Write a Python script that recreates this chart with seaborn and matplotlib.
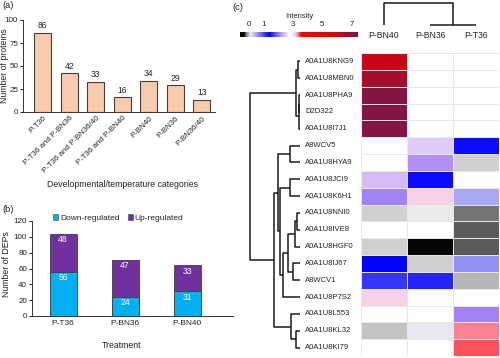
import numpy as np
import pandas as pd
import matplotlib
matplotlib.use("Agg")
import matplotlib.pyplot as plt
from matplotlib.colors import LinearSegmentedColormap
from matplotlib.patches import Patch
import seaborn as sns

# (a) proteins per developmental/temperature category
categories = ["P-T36", "P-T36 and P-BN36", "P-T36 and P-BN36/40", "P-T36 and P-BN40",
              "P-BN40", "P-BN36", "P-BN36/40"]
protein_counts = [86, 42, 33, 16, 34, 29, 13]

# (b) DEPs per treatment
treatments = ["P-T36", "P-BN36", "P-BN40"]
down_reg = [56, 24, 31]
up_reg = [48, 47, 33]

# (c) intensity heatmap
proteins = ["A0A1U8KNG9", "A0A1U8MBN0", "A0A1U8PHA9", "D2D322", "A0A1U8I7J1",
            "A8WCV5", "A0A1U8HYA9", "A0A1U8JCI9", "A0A1U8K6H1", "A0A1U8NNI0",
            "A0A1U8IVE8", "A0A1U8HGF0", "A0A1U8IJ67", "A8WCV1", "A0A1U8P7S2",
            "A0A1U8L553", "A0A1U8KL32", "A0A1U8KI79"]
conditions = ["P-BN40", "P-BN36", "P-T36"]
bn40 = [6.2, 6.7, 7.2, 7.2, 7.2, 2.8, 2.8, 2.4, 2.1, 0.05, 2.8, 0.04, 1.4, 1.1, 3.15, 2.8, 0.01, 2.8]
bn36 = [2.8, 2.8, 2.8, 2.8, 2.8, 2.5, 2.15, 1.45, 3.15, 0.12, 2.8, -0.45, 0.05, 1.2, 2.8, 2.8, 0.14, 2.8]
t36 = [2.8, 2.8, 2.8, 2.8, 2.8, 1.45, 0.06, 2.8, 0.5, -0.16, -0.23, -0.235, 0.6, -0.01, 2.8, 2.1, 3.36, 3.45]

# dendrograms: (left id, right id, height); new cluster ids follow the leaves
row_merges = [(0, 1, 2), (2, 3, 0.8), (19, 4, 1.2), (18, 20, 4.3),
              (5, 6, 10), (7, 8, 10), (9, 10, 3), (24, 11, 5), (12, 13, 7),
              (25, 26, 12), (27, 14, 17), (23, 28, 20), (22, 29, 22),
              (16, 17, 4), (15, 31, 9), (30, 32, 26), (21, 33, 50)]
col_merges = [(1, 2, 0.0), (0, 3, 1.0)]

sns.set_theme(style="ticks")
plt.rcParams["font.family"] = ["Liberation Sans", "DejaVu Sans"]
txt = "#222222"
plt.rcParams.update({"text.color": txt, "axes.labelcolor": txt, "xtick.color": txt,
                     "ytick.color": txt, "axes.edgecolor": "#333333", "axes.linewidth": 0.7,
                     "xtick.major.width": 0.7, "ytick.major.width": 0.7,
                     "xtick.major.size": 2, "ytick.major.size": 2})

W, H = 500, 358
fig = plt.figure(figsize=(5, 3.58), dpi=100)


def box(x0, y0, x1, y1):
    return [x0 / W, 1 - y1 / H, (x1 - x0) / W, (y1 - y0) / H]


# ---- (a)
ax_a = fig.add_axes(box(23, 20, 215, 112))
df_a = pd.DataFrame({"cat": categories, "n": protein_counts})
sns.barplot(data=df_a, x="cat", y="n", order=categories, color="#F8CBAD", saturation=1,
            edgecolor="#404040", linewidth=0.8, width=0.64, errorbar=None, ax=ax_a)
ax_a.bar_label(ax_a.containers[0], padding=2, fontsize=6.2)
ax_a.set_ylim(0, 100)
ax_a.set_yticks([0, 25, 50, 75, 100])
ax_a.set_xlim(-0.75, 6.5)
ax_a.tick_params(axis="y", labelsize=5.8, pad=1.5)
ax_a.tick_params(axis="x", length=0, labelsize=5.7, pad=2)
plt.setp(ax_a.get_xticklabels(), rotation=45, ha="right", rotation_mode="anchor")
ax_a.set_xlabel("Developmental/temperature categories", fontsize=6.3)
ax_a.xaxis.set_label_coords(0.516, -0.74)
ax_a.set_ylabel("Number of proteins", fontsize=6.3)
ax_a.yaxis.set_label_coords(-0.072, 0.5)
sns.despine(ax=ax_a)

# ---- (b)
ax_b = fig.add_axes(box(32, 221, 233, 316))
df_b = pd.DataFrame({"trt": treatments, "down": down_reg, "up": up_reg})
df_b["total"] = df_b["down"] + df_b["up"]
sns.barplot(data=df_b, x="trt", y="total", color="#7030A0", saturation=1,
            edgecolor="#404040", linewidth=0.6, width=0.435, errorbar=None, ax=ax_b)
sns.barplot(data=df_b, x="trt", y="down", color="#00B0F0", saturation=1,
            edgecolor="#404040", linewidth=0.6, width=0.435, errorbar=None, ax=ax_b)
ax_b.bar_label(ax_b.containers[0], labels=[str(v) for v in up_reg], padding=-7.5,
               fontsize=6.2, color="white")
ax_b.bar_label(ax_b.containers[1], labels=[str(v) for v in down_reg], padding=-7.5,
               fontsize=6.2, color="white")
ax_b.set_ylim(0, 120)
ax_b.set_yticks(range(0, 121, 20))
ax_b.set_xlim(-0.5, 2.74)
ax_b.tick_params(axis="y", labelsize=5.8, pad=1.5)
ax_b.tick_params(axis="x", length=0, labelsize=6, pad=3)
ax_b.set_xlabel("Treatment", fontsize=6.3)
ax_b.xaxis.set_label_coords(0.448, -0.263)
ax_b.set_ylabel("Number of DEPs", fontsize=6.3)
ax_b.yaxis.set_label_coords(-0.105, 0.55)
ax_b.legend(handles=[Patch(facecolor="#00B0F0", edgecolor="#404040", linewidth=0.4, label="Down-regulated"),
                     Patch(facecolor="#7030A0", edgecolor="#404040", linewidth=0.4, label="Up-regulated")],
            loc="center", bbox_to_anchor=(0.43, 1.03), ncol=2, frameon=False, fontsize=6,
            handlelength=0.6, handleheight=0.6, handletextpad=0.2, columnspacing=1.0,
            borderpad=0, borderaxespad=0)
sns.despine(ax=ax_b)

# ---- (c)
cmap = LinearSegmentedColormap.from_list("intensity", [
    (0.00, (0, 0, 0)), (0.037, (0.05, 0.05, 0.05)), (0.043, (0.35, 0.35, 0.35)),
    (0.087, (0.93, 0.93, 0.93)), (0.248, (0, 0, 1)), (0.348, (0.75, 0.6, 0.95)),
    (0.422, (1, 1, 1)), (0.472, (0.97, 0.8, 0.9)), (0.522, (1, 0, 0)),
    (0.82, (0.85, 0, 0.05)), (1.0, (0.45, 0.1, 0.3))])
vmin, vmax = -0.6, 7.45

ax_h = fig.add_axes(box(361, 53, 499, 356))
ax_cb = fig.add_axes(box(240, 32, 358, 37))
df_c = pd.DataFrame({"P-BN40": bn40, "P-BN36": bn36, "P-T36": t36}, index=proteins)[conditions]
sns.heatmap(df_c, cmap=cmap, vmin=vmin, vmax=vmax, linewidths=0.6, linecolor="#e8e8e8",
            ax=ax_h, cbar_ax=ax_cb,
            cbar_kws={"orientation": "horizontal", "ticks": [0, 1, 3, 5, 7]})
ax_h.xaxis.tick_top()
ax_h.tick_params(axis="x", length=0, labelsize=6.2, pad=9)
ax_h.set_xticklabels(conditions, rotation=0)
ax_h.set_yticklabels(proteins, rotation=0, ha="left")
ax_h.tick_params(axis="y", length=0, labelsize=5.5, pad=40)
ax_h.set_xlabel("")
ax_h.set_ylabel("")

cb = ax_h.collections[0].colorbar
cb.outline.set_visible(False)
ax_cb.xaxis.set_ticks_position("top")
ax_cb.xaxis.set_label_position("top")
ax_cb.tick_params(length=0, labelsize=5.7, pad=3)
ax_cb.set_xlabel("Intensity", fontsize=5.4, labelpad=2)


def draw_dendro(ax, merges, n, vertical_leaves):
    pos = {i: i + 0.5 for i in range(n)}
    hgt = {i: 0.0 for i in range(n)}
    for k, (a, b, h) in enumerate(merges):
        hs = [hgt[a], h, h, hgt[b]]
        ps = [pos[a], pos[a], pos[b], pos[b]]
        if vertical_leaves:
            ax.plot(hs, ps, color="#1a1a1a", lw=1.1, clip_on=False, solid_capstyle="butt")
        else:
            ax.plot(ps, hs, color="#1a1a1a", lw=1.1, clip_on=False, solid_capstyle="butt")
        pos[n + k] = (pos[a] + pos[b]) / 2
        hgt[n + k] = h
    ax.axis("off")


ax_rd = fig.add_axes(box(250, 53, 300, 356))
draw_dendro(ax_rd, row_merges, len(proteins), True)
ax_rd.set_xlim(50, 0)
ax_rd.set_ylim(len(proteins), 0)

ax_cd = fig.add_axes(box(361, 3, 499, 25))
draw_dendro(ax_cd, col_merges, len(conditions), False)
ax_cd.set_xlim(0, len(conditions))
ax_cd.set_ylim(0, 1)

fig.text(2 / W, 1 - 6 / H, "(a)", fontsize=6.7, va="center")
fig.text(2 / W, 1 - 209 / H, "(b)", fontsize=6.7, va="center")
fig.text(232 / W, 1 - 7 / H, "(c)", fontsize=6.7, va="center")

fig.savefig("out.png", dpi=100)
